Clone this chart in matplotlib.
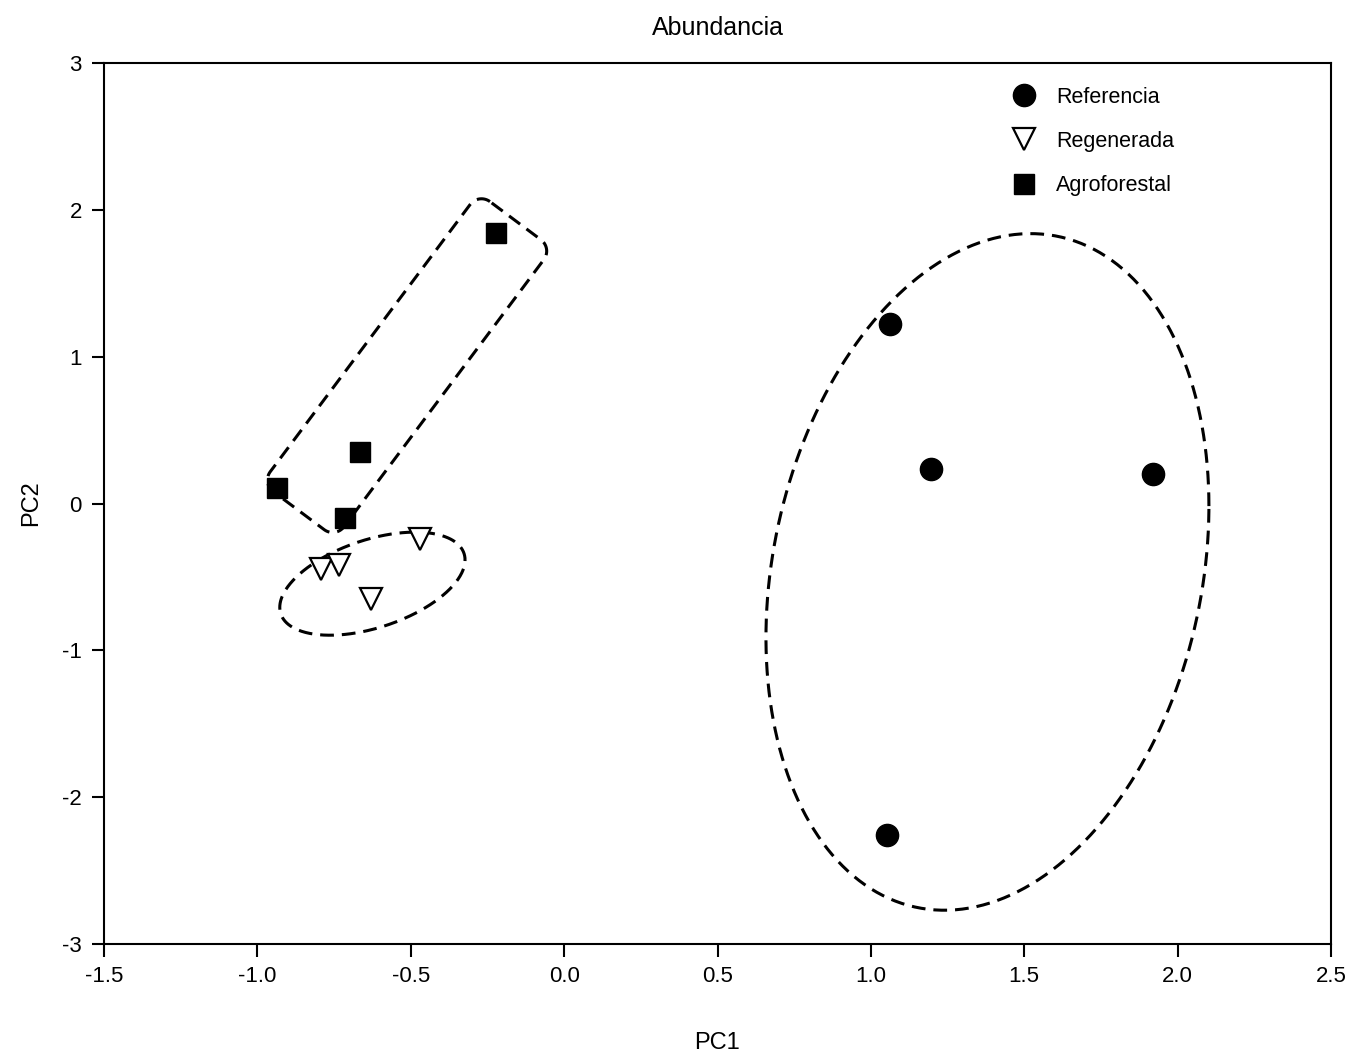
import numpy as np
import matplotlib
matplotlib.use("Agg")
import matplotlib.pyplot as plt

plt.rcParams['font.family'] = ['Liberation Sans', 'DejaVu Sans']
plt.rcParams['axes.unicode_minus'] = False

# datos (PC1, PC2)
ref_x = [1.062, 1.195, 1.920, 1.052]
ref_y = [1.222, 0.234, 0.200, -2.259]

reg_x = [-0.793, -0.734, -0.630, -0.470]
reg_y = [-0.447, -0.420, -0.651, -0.243]

agro_x = [-0.222, -0.665, -0.937, -0.714]
agro_y = [1.844, 0.348, 0.103, -0.102]

# elipses: centro x, centro y, semi-amplitud x, semi-amplitud y, desfase
elipse_ref = [1.380, -0.466, 0.722, 2.304, 1.375]
elipse_reg = [-0.625, -0.546, 0.302, 0.351, 1.093]

# rectangulo redondeado de Agroforestal: centro, media longitud, media anchura, radio, angulo
caja_agro = [-0.512, 0.939, 0.590, 0.150, 0.046, 53.2]

x_ticks = [-1.5, -1.0, -0.5, 0.0, 0.5, 1.0, 1.5, 2.0, 2.5]
x_labels = ["-1.5", "-1.0", "-0.5", "0.0", "0.5", "1.0", "1.5", "2.0", "2.5"]
y_ticks = [-3, -2, -1, 0, 1, 2, 3]
y_labels = ["-3", "-2", "-1", "0", "1", "2", "3"]

W, H = 1348, 1055
fig = plt.figure(figsize=(W / 100, H / 100), dpi=100)
ax = fig.add_axes([104 / W, 1 - 944 / H, (1331 - 104) / W, (944 - 63) / H])
ax.set_xlim(-1.5, 2.5)
ax.set_ylim(-3, 3)

estilo = dict(color='black', linewidth=2.2, dashes=(4.5, 2.6))


def elipse(p):
    t = np.linspace(0, 2 * np.pi, 400)
    return p[0] + p[2] * np.cos(t), p[1] + p[3] * np.cos(t - p[4])


def caja(p):
    # relacion de escala entre ejes para que la forma sea isotropa en pantalla
    bb = ax.get_position()
    r = (bb.height * H / 6) / (bb.width * W / 4)
    cx, cy, L, Wd, rc, ang = p
    esquinas = [(L - rc, Wd - rc, 0), (-(L - rc), Wd - rc, 90),
                (-(L - rc), -(Wd - rc), 180), (L - rc, -(Wd - rc), 270)]
    u, v = [], []
    for ex, ey, a0 in esquinas:
        a = np.radians(np.linspace(a0, a0 + 90, 20))
        u.extend(ex + rc * np.cos(a))
        v.extend(ey + rc * np.sin(a))
    u.append(u[0])
    v.append(v[0])
    u, v = np.array(u), np.array(v)
    th = np.radians(ang)
    xr = u * np.cos(th) - v * np.sin(th)
    yr = u * np.sin(th) + v * np.cos(th)
    return cx + xr, cy + yr / r


ax.plot(*elipse(elipse_ref), **estilo)
ax.plot(*elipse(elipse_reg), **estilo)
ax.plot(*caja(caja_agro), **estilo)

ax.plot(ref_x, ref_y, 'o', color='black', markersize=16, label='Referencia', zorder=3)
ax.plot(reg_x, reg_y, 'v', markerfacecolor='white', markeredgecolor='black',
        markeredgewidth=1.6, markersize=16, linestyle='none', label='Regenerada', zorder=3)
ax.plot(agro_x, agro_y, 's', color='black', markersize=15, label='Agroforestal', zorder=3)

ax.set_xticks(x_ticks)
ax.set_xticklabels(x_labels)
ax.set_yticks(y_ticks)
ax.set_yticklabels(y_labels)
ax.tick_params(direction='out', length=9, width=1.5, labelsize=16, pad=7)
for s in ax.spines.values():
    s.set_linewidth(1.5)

ax.set_title("Abundancia", fontsize=18, pad=20)
ax.set_xlabel("PC1", fontsize=17, labelpad=32)
ax.set_ylabel("PC2", fontsize=17, labelpad=14)

ax.legend(loc='upper left', bbox_to_anchor=(1013 / W, 1 - 87 / H),
          bbox_transform=fig.transFigure, frameon=False, fontsize=15.5,
          handlelength=1.0, handletextpad=1.0, labelspacing=1.07,
          borderpad=0, borderaxespad=0)

fig.savefig("out.png", dpi=100)
